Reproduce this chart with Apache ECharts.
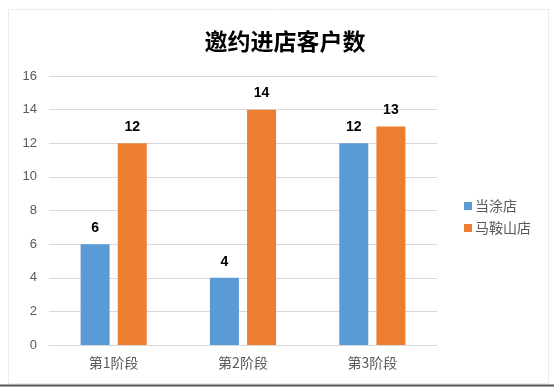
<!DOCTYPE html>
<html>
<head>
<meta charset="utf-8">
<script src="https://cdn.jsdelivr.net/npm/echarts@6/dist/echarts.min.js"></script>
<style>html,body{margin:0;padding:0;background:#fff;}#c{width:554px;height:387px;}</style>
</head>
<body>
<div id="c"></div>
<script>
const categories = ['第1阶段', '第2阶段', '第3阶段'];
const seriesNames = ['当涂店', '马鞍山店'];
const dangtu = [6, 4, 12];
const maanshan = [12, 14, 13];
const yTicks = {min: 0, max: 16, interval: 2};

const chart = echarts.init(document.getElementById('c'));
const font = '"Microsoft YaHei","Noto Sans CJK SC",sans-serif';
const labelCfg = {show: true, position: 'top', distance: 9, color: '#000', fontWeight: 'bold', fontSize: 14, fontFamily: 'Arial, "Liberation Sans", sans-serif'};
chart.setOption({
  animation: false,
  backgroundColor: '#fff',
  graphic: [
    {type: 'rect', shape: {x: 8.5, y: 9.5, width: 540, height: 374}, style: {fill: 'none', stroke: '#ececec', lineWidth: 1}, silent: true},
    {type: 'line', shape: {x1: 0, y1: 385.5, x2: 554, y2: 385.5}, style: {stroke: '#555', lineWidth: 2}, silent: true}
  ],
  title: {
    text: '邀约进店客户数',
    left: 280, top: 25, textAlign: 'center',
    textStyle: {fontSize: 23, fontWeight: 'bold', color: '#000', fontFamily: font}
  },
  legend: {
    orient: 'vertical', left: 459, top: 194,
    itemWidth: 8, itemHeight: 8, itemGap: 8,
    icon: 'rect',
    textStyle: {fontSize: 14, color: '#595959', fontFamily: font, padding: [0,0,0,-2]},
    data: seriesNames
  },
  grid: {left: 49, right: 117, top: 76, bottom: 42},
  xAxis: {
    type: 'category', data: categories,
    axisLine: {lineStyle: {color: '#d9d9d9'}},
    axisTick: {show: false},
    axisLabel: {color: '#595959', fontSize: 14, margin: 11, fontFamily: font}
  },
  yAxis: {
    type: 'value', min: yTicks.min, max: yTicks.max, interval: yTicks.interval,
    axisLine: {show: false}, axisTick: {show: false},
    axisLabel: {color: '#595959', fontSize: 13, margin: 12, fontFamily: 'Arial, "Liberation Sans", sans-serif'},
    splitLine: {lineStyle: {color: '#d9d9d9'}}
  },
  series: [
    {name: seriesNames[0], type: 'bar', data: dangtu, barWidth: 29, barGap: '28%', itemStyle: {color: '#5B9BD5'}, label: labelCfg},
    {name: seriesNames[1], type: 'bar', data: maanshan, barWidth: 29, itemStyle: {color: '#ED7D31'}, label: labelCfg}
  ]
});
</script>
</body>
</html>
